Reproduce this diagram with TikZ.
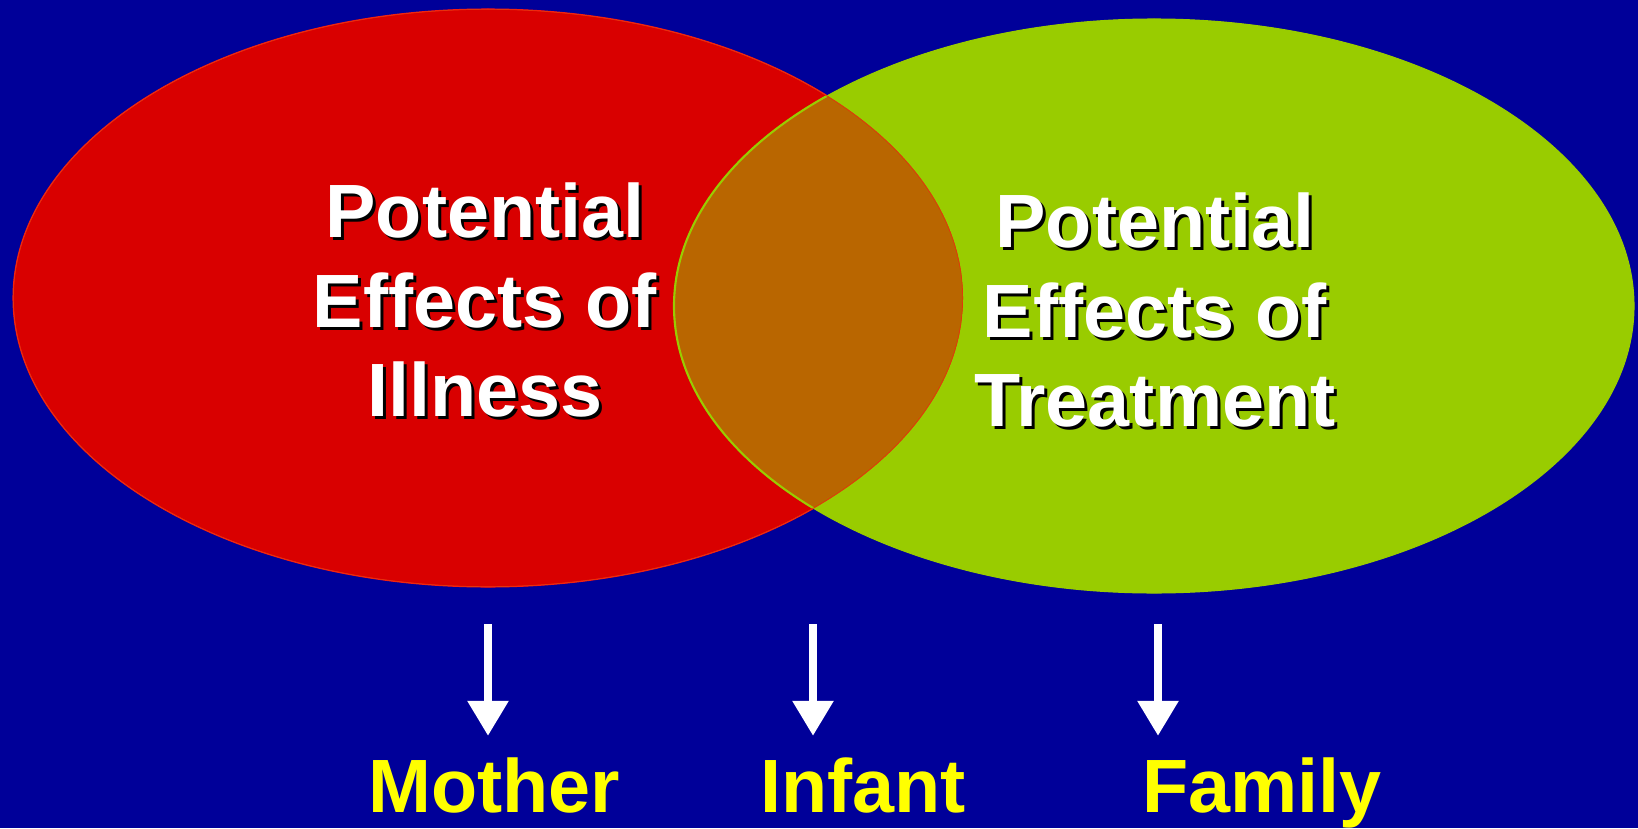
\documentclass[tikz,border=0pt]{standalone}
\usepackage{fontspec}
\setmainfont{Liberation Sans}
\usepackage{tikz}
\usetikzlibrary{
    arrows.meta,
    positioning
}
\definecolor{slideblue}{RGB}{0,0,153}
\definecolor{illred}{RGB}{217,0,0}
\definecolor{illedge}{RGB}{255,20,20}
\definecolor{treatgreen}{RGB}{153,204,0}
\definecolor{bothbrown}{RGB}{185,102,0}
\definecolor{labelyellow}{RGB}{255,255,0}

\begin{document}
\begin{tikzpicture}[x=0.02cm,y=-0.02cm]
  % Slide background (fixes the size as well)
  \fill[slideblue] (0,0) rectangle (1638,828);
  \useasboundingbox (0,0) rectangle (1638,828);

  % Define styles:
  \tikzset{
    effect/.style={align=center, inner sep=0pt, text=white,
      font=\bfseries\fontsize{43}{51}\selectfont},
    effectshadow/.style={effect, text=black},
    who/.style={anchor=base, inner sep=0pt, text=labelyellow,
      font=\bfseries\fontsize{43}{52}\selectfont},
    leadsto/.style={-{Triangle[width=0.78cm,length=0.7cm]}, line width=0.17cm,
      white, shorten >=0.42cm}
  };

  % The two ellipses
  \filldraw[fill=illred, draw=illedge, line width=0.6pt] (488,298) ellipse [x radius=475, y radius=289];
  \filldraw[fill=treatgreen, draw=treatgreen, line width=0.6pt] (1154,306) ellipse [x radius=480, y radius=287];

  % Where they overlap
  \begin{scope}
    \clip (488,298) ellipse [x radius=475, y radius=289];
    \filldraw[fill=bothbrown, draw=treatgreen, line width=1.2pt] (1154,306) ellipse [x radius=480, y radius=287];
    \draw[illedge!60!bothbrown, line width=0.8pt] (488,298) ellipse [x radius=475, y radius=289];
  \end{scope}

  % Texts, each with a black shadow behind it
  \node[effectshadow] (illness_sh) at (488,303) {Potential\\Effects of\\Illness};
  \node[effect] (illness) at (485,300) {Potential\\Effects of\\Illness};
  \node[effectshadow] (treatment_sh) at (1158,313) {Potential\\Effects of\\Treatment};
  \node[effect] (treatment) at (1155,310) {Potential\\Effects of\\Treatment};

  % Who is affected
  \node[who] (mother) at (494,812) {Mother};
  \node[who] (infant) at (863,812) {Infant};
  \node[who] (family) at (1262,812) {Family};

  % Arrows down to them
  \coordinate (mother_top) at (488,624);
  \coordinate (infant_top) at (813,624);
  \coordinate (family_top) at (1158,624);
  \draw[leadsto] (mother_top) -- (mother_top |- mother.north);
  \draw[leadsto] (infant_top) -- (infant_top |- infant.north);
  \draw[leadsto] (family_top) -- (family_top |- family.north);
\end{tikzpicture}
\end{document}
